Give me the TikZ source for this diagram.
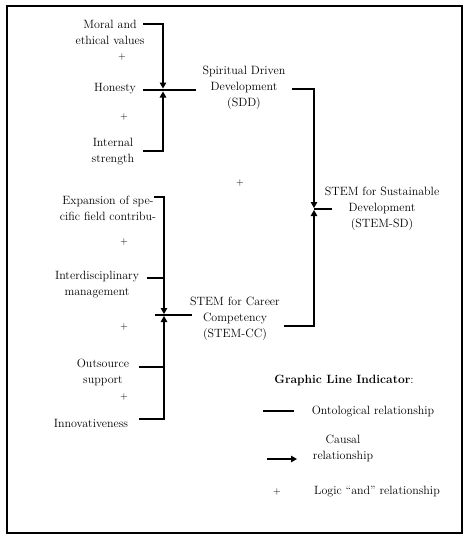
\documentclass[tikz,border=0pt]{standalone}
\usetikzlibrary{arrows.meta}
\begin{document}
\begin{tikzpicture}[x=1pt,y=1pt,
  txt/.style={align=center,inner sep=0pt,font=\fontsize{12}{16}\selectfont},
  plus/.style={inner sep=0pt,font=\fontsize{10}{12}\selectfont},
  ln/.style={line width=1.2pt},
  arr/.style={line width=1.2pt,-{Triangle[width=6.5pt,length=6pt]}}]
\useasboundingbox (0,0) rectangle (468,-550);
\draw[line width=1.1pt] (7,-6) rectangle (462,-533);
% nodes
\node[txt] (moral) at (110,-32) {Moral and\\ethical values};
\node[plus] (p1) at (122,-57) {+};
\node[txt] (honesty) at (115,-89) {Honesty};
\node[plus] (p2) at (124,-117) {+};
\node[txt] (internal) at (113,-151.5) {Internal\\strength};
\node[txt] (sdd) at (244,-88) {Spiritual Driven\\Development\\(SDD)};
\node[plus] (p3) at (240,-183) {+};
\node[txt] (stemsd) at (382,-208.5) {STEM for Sustainable\\Development\\(STEM-SD)};
\node[txt] (expansion) at (108,-208) {Expansion of spe-\\cific field contribu-};
\node[plus] (p4) at (124,-242) {+};
\node[txt] (inter) at (97,-284.5) {Interdisciplinary\\management};
\node[txt] (stemcc) at (235,-319) {STEM for Career\\Competency\\(STEM-CC)};
\node[plus] (p5) at (124,-327) {+};
\node[txt] (outsource) at (103,-372.5) {Outsource\\support};
\node[plus] (p6) at (124,-397) {+};
\node[txt] (innov) at (91,-423) {Innovativeness};
% legend
\node[txt] (legtitle) at (344,-380) {\textbf{Graphic Line Indicator}:};
\node[txt] (onto) at (373,-411) {Ontological relationship};
\node[txt] (causal) at (343,-448.5) {Causal\\relationship};
\node[plus] (lplus) at (277,-492) {+};
\node[txt] (logic) at (377,-492) {Logic ``and'' relationship};
% junction coordinates
\coordinate (m0) at (143,-24);
\coordinate (sddup) at (163,-88.5);
\coordinate (h0) at (143,-90);
\coordinate (h1) at (196,-90);
\coordinate (i0) at (143,-151);
\coordinate (sdddn) at (163,-91.5);
\coordinate (s0) at (292,-89);
\coordinate (sdup) at (314,-208);
\coordinate (sd0) at (314,-209);
\coordinate (sd1) at (332,-209);
\coordinate (c0) at (284,-326);
\coordinate (sddn) at (314,-210);
\coordinate (e0) at (154,-197);
\coordinate (ccup) at (164,-314);
\coordinate (t0) at (147,-278);
\coordinate (t1) at (164,-278);
\coordinate (cc0) at (155,-315);
\coordinate (cc1) at (192,-315);
\coordinate (o0) at (139,-367);
\coordinate (o1) at (164,-367);
\coordinate (n0) at (139,-419);
\coordinate (ccdn) at (164,-316);
\coordinate (l0) at (263,-411);
\coordinate (l1) at (294,-411);
\coordinate (a0) at (267,-459);
\coordinate (a1) at (297,-459);
% connectors
\draw[arr] (m0) -| (sddup);
\draw[ln] (h0) -- (h1);
\draw[arr] (i0) -| (sdddn);
\draw[arr] (s0) -| (sdup);
\draw[ln] (sd0) -- (sd1);
\draw[arr] (c0) -| (sddn);
\draw[arr] (e0) -| (ccup);
\draw[ln] (t0) -- (t1);
\draw[ln] (cc0) -- (cc1);
\draw[ln] (o0) -- (o1);
\draw[arr] (n0) -| (ccdn);
\draw[ln] (l0) -- (l1);
\draw[arr] (a0) -- (a1);
\end{tikzpicture}
\end{document}
